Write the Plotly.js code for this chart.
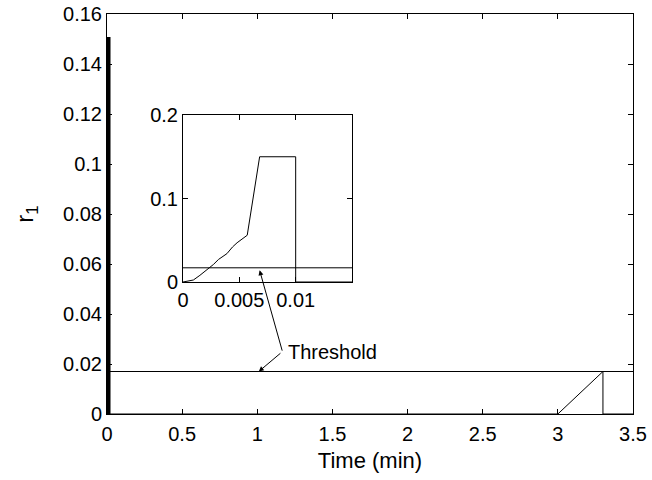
<!DOCTYPE html>
<html>
<head>
<meta charset="utf-8">
<script src="https://cdn.plot.ly/plotly-3.0.1.min.js"></script>
<style>html,body{margin:0;padding:0;background:#fff;}#chart{width:652px;height:480px;}</style>
</head>
<body>
<div id="chart"></div>
<script>
// Data (time in min, r1)
const timeMin = [0, 0.00092, 0.0015, 0.0021, 0.0027, 0.00315, 0.0039, 0.0044, 0.0048, 0.0057, 0.0068, 0.01, 0.01, 3.0, 3.3, 3.3, 3.5];
const r1 = [0, 0.0024, 0.008, 0.0144, 0.021, 0.027, 0.034, 0.042, 0.047, 0.056, 0.15, 0.15, 0, 0, 0.017, 0, 0];
const pulseEnd = 13; // first samples form the initial pulse (drawn thick at main scale)
const thresholdValue = 0.017;
const thresholdX = [0, 3.5];
const insetThresholdX = [0, 0.015];

const mainXTicks = [0, 0.5, 1, 1.5, 2, 2.5, 3, 3.5];
const mainXLabels = ['0', '0.5', '1', '1.5', '2', '2.5', '3', '3.5'];
const mainYTicks = [0, 0.02, 0.04, 0.06, 0.08, 0.1, 0.12, 0.14, 0.16];
const mainYLabels = ['0', '0.02', '0.04', '0.06', '0.08', '0.1', '0.12', '0.14', '0.16'];
const insetXTicks = [0, 0.005, 0.01];
const insetXLabels = ['0', '0.005', '0.01'];
const insetYTicks = [0, 0.1, 0.2];
const insetYLabels = ['0', '0.1', '0.2'];

const fam = 'Liberation Sans, Arial, sans-serif';
const font = {family: fam, size: 20, color: '#000'};
const lineStyle = {color: '#000', width: 1};

const traces = [
  {x: timeMin.slice(0, pulseEnd), y: r1.slice(0, pulseEnd), type: 'scatter', mode: 'lines', line: {color: '#000', width: 4}, xaxis: 'x', yaxis: 'y', hoverinfo: 'none'},
  {x: timeMin.slice(pulseEnd - 1), y: r1.slice(pulseEnd - 1), type: 'scatter', mode: 'lines', line: lineStyle, xaxis: 'x', yaxis: 'y', hoverinfo: 'none'},
  {x: thresholdX, y: [thresholdValue, thresholdValue], type: 'scatter', mode: 'lines', line: lineStyle, xaxis: 'x', yaxis: 'y', hoverinfo: 'none'},
  {x: timeMin, y: r1, type: 'scatter', mode: 'lines', line: lineStyle, xaxis: 'x2', yaxis: 'y2', hoverinfo: 'none'},
  {x: insetThresholdX, y: [thresholdValue, thresholdValue], type: 'scatter', mode: 'lines', line: lineStyle, xaxis: 'x2', yaxis: 'y2', hoverinfo: 'none'}
];

const axCommon = {
  showgrid: false, zeroline: false, showline: true, linecolor: '#000', linewidth: 1,
  mirror: 'allticks', ticks: 'inside', ticklen: 5, tickcolor: '#000', tickwidth: 1,
  tickfont: font, tickmode: 'array'
};

const layout = {
  width: 652, height: 480,
  margin: {l: 107, r: 19, t: 14, b: 66},
  paper_bgcolor: '#fff', plot_bgcolor: '#fff',
  showlegend: false,
  font: font,
  xaxis: Object.assign({}, axCommon, {
    domain: [0, 1], range: [0, 3.5], tickvals: mainXTicks, ticktext: mainXLabels,
    ticklabelstandoff: 2,
    title: {text: 'Time (min)', font: {family: fam, size: 22, color: '#000'}, standoff: 8}
  }),
  yaxis: Object.assign({}, axCommon, {
    domain: [0, 1], range: [0, 0.16], tickvals: mainYTicks, ticktext: mainYLabels,
    title: {text: 'r<sub>1</sub>', font: {family: fam, size: 24, color: '#000'}, standoff: 22}
  }),
  xaxis2: Object.assign({}, axCommon, {
    domain: [0.1445, 0.4658], range: [0, 0.015], anchor: 'y2',
    tickvals: insetXTicks, ticktext: insetXLabels
  }),
  yaxis2: Object.assign({}, axCommon, {
    domain: [0.33, 0.7475], range: [0, 0.2], anchor: 'x2',
    tickvals: insetYTicks, ticktext: insetYLabels
  }),
  annotations: [
    {xref: 'x', yref: 'y', x: 1.19, y: 0.0248, text: 'Threshold', showarrow: false,
     xanchor: 'left', yanchor: 'middle', font: font},
    {xref: 'x', yref: 'y', x: 1.01, y: thresholdValue, axref: 'x', ayref: 'y', ax: 1.164, ay: 0.0248,
     text: '', showarrow: true, arrowhead: 2, arrowsize: 1, arrowwidth: 1, arrowcolor: '#000', standoff: 0},
    {xref: 'x2', yref: 'y2', x: 0.0068, y: 0.014, axref: 'x2', ayref: 'y2', ax: 0.00884, ay: -0.084,
     text: '', showarrow: true, arrowhead: 2, arrowsize: 1, arrowwidth: 1, arrowcolor: '#000', standoff: 0}
  ]
};

Plotly.newPlot('chart', traces, layout, {displayModeBar: false, staticPlot: true});
</script>
</body>
</html>
